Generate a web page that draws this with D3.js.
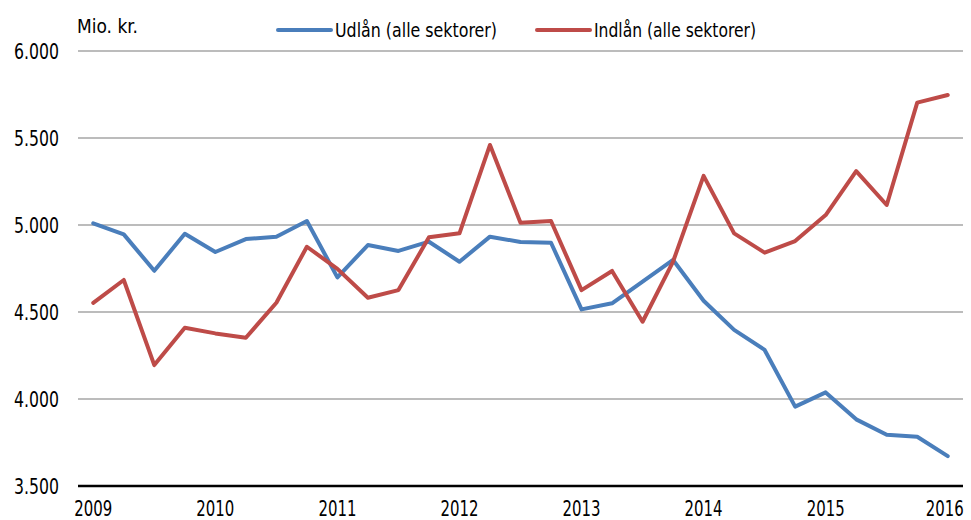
<!DOCTYPE html>
<html>
<head>
<meta charset="utf-8">
<script src="https://cdn.jsdelivr.net/npm/d3@7"></script>
<style>
  body { margin: 0; background: #fff; }
  text { font-family: "DejaVu Sans Condensed", "Liberation Sans Narrow", sans-serif; fill: #000; }
</style>
</head>
<body>
<svg id="chart" width="971" height="520"></svg>
<script>
// kvartaler 2009K1 - 2016K1
var quarters = [];
for (var yr = 2009; yr <= 2016; yr++) {
    for (var q = 1; q <= 4; q++) {
        if (yr === 2016 && q > 1) break;
        quarters.push(yr + "K" + q);
    }
}
var yearLabels = ["2009", "2010", "2011", "2012", "2013", "2014", "2015", "2016"];
var yTicks = [3500, 4000, 4500, 5000, 5500, 6000];

var udlaan = [5010, 4946, 4737, 4950, 4845, 4919, 4933, 5023, 4699, 4885,
    4851, 4904, 4789, 4933, 4902, 4898, 4515, 4550, 4674, 4799,
    4565, 4397, 4282, 3956, 4038, 3883, 3795, 3783, 3672];
var indlaan = [4553, 4684, 4195, 4410, 4377, 4352, 4553, 4875, 4748, 4582,
    4626, 4929, 4952, 5460, 5013, 5023, 4626, 4736, 4444, 4790,
    5282, 4952, 4841, 4908, 5057, 5310, 5115, 5703, 5747];

var series = [
    {name: "Udlån (alle sektorer)", values: udlaan, color: "#4a7ebb"},
    {name: "Indlån (alle sektorer)", values: indlaan, color: "#be4b48"}
];

var svg = d3.select("#chart");

var x = d3.scalePoint().domain(quarters).range([78, 963]).padding(0.5);
var y = d3.scaleLinear().domain([3500, 6000]).range([486, 51]);

var fmt = function (d) { return d3.format(",")(d).replace(",", "."); };

// gitterlinjer
svg.append("g").selectAll("line")
    .data(yTicks.slice(1))
    .enter().append("line")
    .attr("x1", 78).attr("x2", 963)
    .attr("y1", function (d) { return y(d); })
    .attr("y2", function (d) { return y(d); })
    .attr("stroke", "#a6a6a6")
    .attr("stroke-width", 1.5);

// y-akse tekster (smal skrift via textLength)
svg.append("g").selectAll("text")
    .data(yTicks)
    .enter().append("text")
    .attr("x", 59)
    .attr("y", function (d) { return y(d); })
    .attr("dy", "0.36em")
    .attr("text-anchor", "end")
    .attr("textLength", 45)
    .attr("lengthAdjust", "spacingAndGlyphs")
    .style("font-size", "22px")
    .text(fmt);

svg.append("text")
    .attr("x", 77).attr("y", 33)
    .attr("textLength", 61)
    .attr("lengthAdjust", "spacingAndGlyphs")
    .style("font-size", "20px")
    .text("Mio. kr.");

// x-akse
svg.append("line")
    .attr("x1", 78).attr("x2", 963)
    .attr("y1", y(3500)).attr("y2", y(3500))
    .attr("stroke", "#000")
    .attr("stroke-width", 2.5);

svg.append("g").selectAll("text")
    .data(yearLabels)
    .enter().append("text")
    .attr("x", function (d, i) { return x(d + "K1") - (i === yearLabels.length - 1 ? 3 : 0); })
    .attr("y", 516)
    .attr("text-anchor", "middle")
    .attr("textLength", 38)
    .attr("lengthAdjust", "spacingAndGlyphs")
    .style("font-size", "21px")
    .text(function (d) { return d; });

// linjer
var line = d3.line()
    .x(function (d, i) { return x(quarters[i]); })
    .y(function (d) { return y(d); });

svg.append("g").selectAll("path")
    .data(series)
    .enter().append("path")
    .attr("d", function (s) { return line(s.values); })
    .attr("fill", "none")
    .attr("stroke", function (s) { return s.color; })
    .attr("stroke-width", 4)
    .attr("stroke-linejoin", "round")
    .attr("stroke-linecap", "round");

// forklaring
var legendX = [278, 537];
var lg = svg.append("g").selectAll("g")
    .data(series)
    .enter().append("g")
    .attr("transform", function (s, i) { return "translate(" + legendX[i] + ",30)"; });
lg.append("line")
    .attr("x1", 0).attr("x2", 53)
    .attr("stroke", function (s) { return s.color; })
    .attr("stroke-width", 4)
    .attr("stroke-linecap", "round");
lg.append("text")
    .attr("x", 57).attr("dy", "0.36em")
    .attr("textLength", 162)
    .attr("lengthAdjust", "spacingAndGlyphs")
    .style("font-size", "20px")
    .text(function (s) { return s.name; });
</script>
</body>
</html>
